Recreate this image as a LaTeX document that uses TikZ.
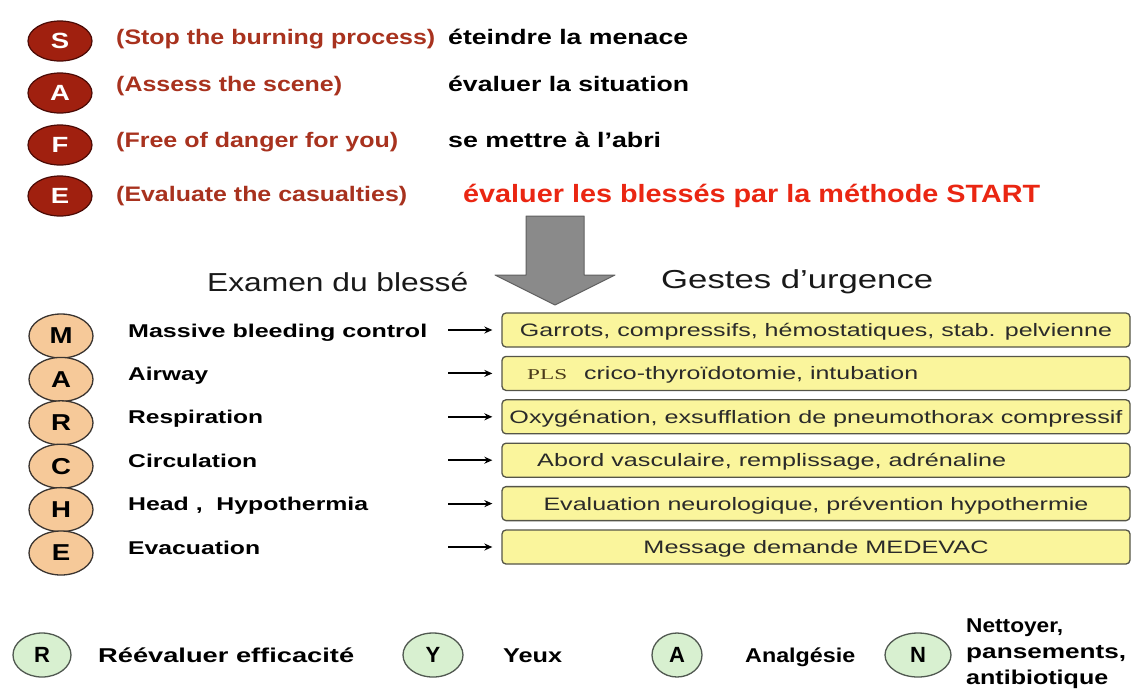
\documentclass[tikz,border=0pt]{standalone}
\usepackage{fontspec}
\setmainfont{Liberation Sans}
\newfontfamily\plsfont{Liberation Serif}
\usetikzlibrary{shapes.geometric,arrows.meta}
\newcommand{\fitw}[2]{\resizebox{#1pt}{\height}{#2}}
\definecolor{safefill}{HTML}{A0200F}
\definecolor{safeborder}{HTML}{4A0A05}
\definecolor{engred}{HTML}{A8321E}
\definecolor{startred}{HTML}{EA2612}
\definecolor{marchefill}{HTML}{F6C999}
\definecolor{marcheborder}{HTML}{3A3430}
\definecolor{boxfill}{HTML}{FAF59C}
\definecolor{boxborder}{HTML}{555548}
\definecolor{boxtext}{HTML}{2A2A2A}
\definecolor{greenfill}{HTML}{D8F0D0}
\definecolor{greenborder}{HTML}{505850}
\definecolor{arrowgrey}{HTML}{8A8A8A}
\definecolor{arrowborder}{HTML}{606060}
\definecolor{plscol}{HTML}{4A3A1A}
\tikzset{
  safe/.style={ellipse, draw=safeborder, fill=safefill, line width=1.2pt, minimum width=64pt, minimum height=40pt, inner sep=0pt, text=white, font=\fontsize{22}{22}\selectfont\bfseries},
  marche/.style={ellipse, draw=marcheborder, fill=marchefill, line width=1.3pt, minimum width=64pt, minimum height=44pt, inner sep=0pt, text=black, font=\fontsize{23}{23}\selectfont\bfseries},
  green/.style={ellipse, draw=greenborder, fill=greenfill, line width=1.3pt, minimum height=44pt, inner sep=0pt, text=black, font=\fontsize{22}{22}\selectfont\bfseries},
  txt/.style={anchor=base west, inner sep=0pt},
  eng/.style={txt, text=engred, font=\fontsize{21}{21}\selectfont\bfseries},
  fr/.style={txt, text=black, font=\fontsize{21}{21}\selectfont\bfseries},
  lab/.style={txt, text=black, font=\fontsize{18.5}{18.5}\selectfont\bfseries},
  head/.style={txt, text=black!90, font=\fontsize{26}{26}\selectfont},
  gbox/.style={rectangle, rounded corners=4pt, draw=boxborder, fill=boxfill, line width=1.3pt, minimum width=628pt, minimum height=34pt, inner sep=0pt, text height=16pt, text depth=3pt, text=boxtext, font=\fontsize{18}{18}\selectfont},
  btxt/.style={txt, text=boxtext, font=\fontsize{18}{18}\selectfont},
  bot/.style={txt, text=black, font=\fontsize{20}{20}\selectfont\bfseries},
  arr/.style={line width=2pt, -{Stealth[length=8pt,width=7pt]}, shorten >=9pt}
}
\begin{document}
\begin{tikzpicture}[x=1pt,y=-1pt]
\useasboundingbox (0,0) rectangle (1147,691);
\fill[white] (0,0) rectangle (1147,691);

% SAFE
\node[safe] (s) at (60,41) {\scalebox{1.25}[1]{S}};
\node[safe] (a) at (60,93) {\scalebox{1.25}[1]{A}};
\node[safe] (f) at (60,145) {\scalebox{1.25}[1]{F}};
\node[safe] (e) at (60,196) {\scalebox{1.25}[1]{E}};

\node[eng] (es) at (116,44) {\fitw{319}{(Stop the burning process)}};
\node[eng] (ea) at (116,91.5) {\fitw{226}{(Assess the scene)}};
\node[eng] (ef) at (116,147.5) {\fitw{282}{(Free of danger for you)}};
\node[eng] (ee) at (116,201.5) {\fitw{291}{(Evaluate the casualties)}};

\node[fr] (fs) at (448,44) {\fitw{240}{éteindre la menace}};
\node[fr] (fa) at (448,91.5) {\fitw{241}{évaluer la situation}};
\node[fr] (ff) at (448,147.5) {\fitw{213}{se mettre à l'abri}};
\node[txt, text=startred, font=\fontsize{25}{25}\selectfont\bfseries] (fe) at (463,202.5) {\fitw{577}{évaluer les blessés par la méthode START}};

% big grey arrow
\draw[fill=arrowgrey, draw=arrowborder, line width=1pt, line join=round]
  (526,216) -- (584,216) -- (584,275) -- (615,275) -- (555,305) -- (495,275) -- (526,275) -- cycle;

% headings
\node[head] (h1) at (207,291) {\fitw{261}{Examen du blessé}};
\node[head] (h2) at (661,288) {\fitw{272}{Gestes d'urgence}};

% MARCHE circles
\node[marche] (m1) at (61,336) {\scalebox{1.2}[1]{M}};
\node[marche] (m2) at (61,379.4) {\scalebox{1.2}[1]{A}};
\node[marche] (m3) at (61,422.8) {\scalebox{1.2}[1]{R}};
\node[marche] (m4) at (61,466.2) {\scalebox{1.2}[1]{C}};
\node[marche] (m5) at (61,509.6) {\scalebox{1.2}[1]{H}};
\node[marche] (m6) at (61,553) {\scalebox{1.2}[1]{E}};

% labels
\node[lab] (l1) at (128,337) {\fitw{299}{Massive bleeding control}};
\node[lab] (l2) at (128,380.4) {\fitw{80}{Airway}};
\node[lab] (l3) at (128,423.8) {\fitw{135}{Respiration}};
\node[lab] (l4) at (128,467.2) {\fitw{129}{Circulation}};
\node[lab] (l5) at (128,510.6) {\fitw{240}{Head ,\ \ Hypothermia}};
\node[lab] (l6) at (128,554) {\fitw{132}{Evacuation}};

% boxes
\node[gbox] (b1) at (816,330) {\fitw{592}{Garrots, compressifs, hémostatiques, stab. pelvienne}};
\node[gbox] (b2) at (816,373.4) {};
\node[gbox] (b3) at (816,416.8) {\fitw{613}{Oxygénation, exsufflation de pneumothorax compressif}};
\node[gbox] (b4) at (816,460.2) {};
\node[gbox] (b5) at (816,503.6) {\fitw{545}{Evaluation neurologique, prévention hypothermie}};
\node[gbox] (b6) at (816,547) {\fitw{345}{Message demande MEDEVAC}};

\node[txt, text=plscol, font=\fontsize{15}{15}\plsfont] (pls) at (527,379.5) {\fitw{40}{PLS}};
\node[btxt] (t2) at (584,379.9) {\fitw{334}{crico-thyroïdotomie, intubation}};
\node[btxt] (t4) at (537,466.7) {\fitw{469}{Abord vasculaire, remplissage, adrénaline}};

% small arrows
\coordinate (p1) at (448,330);
\coordinate (p2) at (448,373.4);
\coordinate (p3) at (448,416.8);
\coordinate (p4) at (448,460.2);
\coordinate (p5) at (448,503.6);
\coordinate (p6) at (448,547);
\draw[arr] (p1) -- (b1.west);
\draw[arr] (p2) -- (b2.west);
\draw[arr] (p3) -- (b3.west);
\draw[arr] (p4) -- (b4.west);
\draw[arr] (p5) -- (b5.west);
\draw[arr] (p6) -- (b6.west);

% RYAN
\node[green, minimum width=58pt] (r) at (42,655) {R};
\node[bot] (tr) at (98,662) {\fitw{256}{Réévaluer efficacité}};
\node[green, minimum width=60pt] (y) at (433,655) {Y};
\node[bot] (ty) at (503,662) {\fitw{59}{Yeux}};
\node[green, minimum width=50pt] (an) at (677,655) {A};
\node[bot] (ta) at (745,662) {\fitw{110}{Analgésie}};
\node[green, minimum width=66pt] (n) at (918,655) {N};
\node[bot] (tn1) at (966,632) {\fitw{97}{Nettoyer,}};
\node[bot] (tn2) at (966,658) {\fitw{160}{pansements,}};
\node[bot] (tn3) at (966,684) {\fitw{142}{antibiotique}};
\end{tikzpicture}
\end{document}
